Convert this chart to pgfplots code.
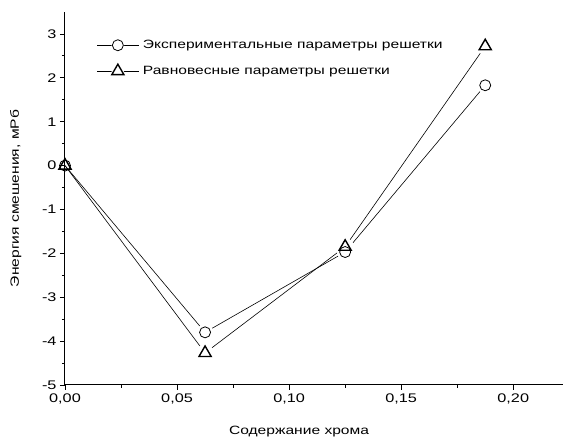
\documentclass[border=0pt]{standalone}
\usepackage{fontspec}
\setmainfont{Liberation Sans}[FakeStretch=1.3]
\usepackage{pgfplots}
\pgfplotsset{compat=1.18}
\begin{document}
\begin{tikzpicture}
\begin{axis}[
  name=ax,
  scale only axis,
  width=498pt, height=373pt,
  xmin=0, xmax=0.2222,
  ymin=-5, ymax=3.5,
  axis x line=bottom, axis y line=left,
  axis line style={-, line width=1pt},
  xtick={0,0.05,0.10,0.15,0.20},
  ytick={-5,-4,-3,-2,-1,0,1,2,3},
  minor x tick num=1, minor y tick num=1,
  tick align=outside,
  major tick length=5pt, minor tick length=3pt,
  tick style={black, line width=0.8pt},
  xticklabel style={/pgf/number format/.cd, fixed, fixed zerofill, precision=2, use comma},
  /pgf/number format/assume math mode=true,
  tick label style={font=\fontsize{12.5}{14}\selectfont},
  label style={font=\fontsize{12}{14}\selectfont},
  xlabel={Содержание хрома},
  ylabel={Энергия смешения, мРб},
  xlabel style={at={(axis description cs:0.47,0)}, anchor=north, yshift=-38pt},
  ylabel style={at={(axis description cs:0,0.5)}, anchor=south, yshift=40pt},
  legend style={draw=none, fill=none, at={(axis description cs:0.064,0.93)}, anchor=north west,
    font=\fontsize{12}{14}\selectfont, row sep=12pt, inner sep=0pt,
    nodes={inner xsep=4pt}},
  legend cell align=left,
  legend image code/.code={
    \draw[black, line width=0.6pt] (0cm,0cm) -- (1.45cm,0cm);
    \draw[white, fill=white] (0.72cm,0cm) circle (6pt);
    \draw[#1] plot coordinates {(0.72cm,0cm)};
  },
]
% lines
\addplot[black, line width=0.6pt, mark=none, forget plot] coordinates {
  (0,0) (0.0625,-3.80) (0.125,-1.97) (0.1875,1.83)};
\addplot[black, line width=0.6pt, mark=none, forget plot] coordinates {
  (0,0) (0.0625,-4.27) (0.125,-1.85) (0.1875,2.72)};
% white masks (gap between line and marker)
\addplot[only marks, mark=*, mark size=8pt, draw=white, fill=white, forget plot] coordinates {
  (0.0625,-3.80) (0.125,-1.97) (0.1875,1.83)};
\addplot[only marks, mark=*, mark size=8.5pt, draw=white, fill=white, forget plot] coordinates {
  (0.0625,-4.27) (0.125,-1.85) (0.1875,2.72)};
% markers
\addplot[only marks, mark=o, mark size=5.5pt, mark options={black, line width=0.8pt, fill=white}] coordinates {
  (0,0) (0.0625,-3.80) (0.125,-1.97) (0.1875,1.83)};
\addlegendentry{Экспериментальные параметры решетки}
\addplot[only marks, mark=triangle, mark size=7pt, mark options={black, line width=1.4pt, fill=none}] coordinates {
  (0,0) (0.0625,-4.27) (0.125,-1.85) (0.1875,2.72)};
\addlegendentry{Равновесные параметры решетки}
\end{axis}
\pgfresetboundingbox
\path ([xshift=-65pt,yshift=-60pt]ax.south west) rectangle ([yshift=12pt]ax.north east);
\end{tikzpicture}
\end{document}
